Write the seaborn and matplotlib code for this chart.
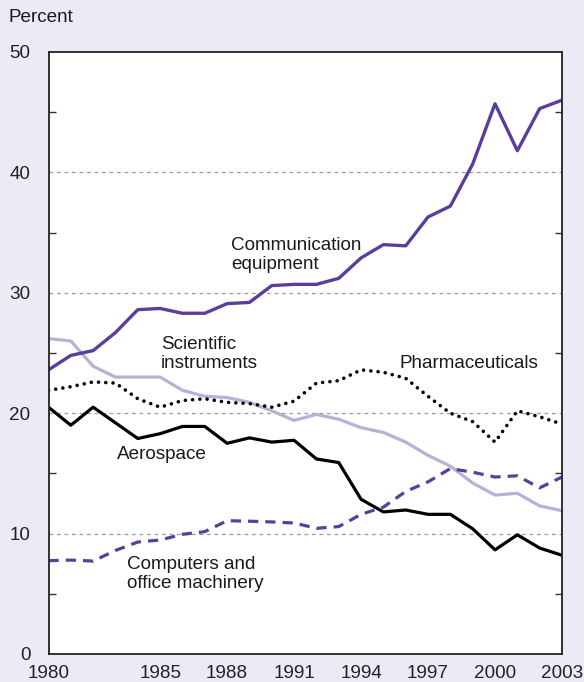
import numpy as np
import pandas as pd
import matplotlib
matplotlib.use("Agg")
import matplotlib.pyplot as plt
import seaborn as sns

years = list(range(1980, 2004))
communication = [23.6, 24.8, 25.2, 26.7, 28.6, 28.7, 28.3, 28.3, 29.1, 29.2, 30.6, 30.7,
                 30.7, 31.2, 32.9, 34.0, 33.9, 36.3, 37.2, 40.7, 45.7, 41.8, 45.3, 46.0]
scientific = [26.2, 26.0, 23.9, 23.0, 23.0, 23.0, 21.9, 21.4, 21.3, 20.9, 20.2, 19.4,
              19.9, 19.5, 18.8, 18.4, 17.6, 16.5, 15.6, 14.2, 13.2, 13.35, 12.3, 11.9]
pharma = [21.9, 22.2, 22.6, 22.5, 21.2, 20.5, 21.05, 21.2, 20.9, 20.8, 20.5, 21.0,
          22.5, 22.7, 23.6, 23.4, 22.9, 21.4, 20.0, 19.3, 17.6, 20.2, 19.7, 19.1]
aerospace = [20.5, 19.0, 20.5, 19.2, 17.9, 18.3, 18.9, 18.9, 17.5, 17.95, 17.6, 17.75,
             16.2, 15.9, 12.85, 11.8, 11.96, 11.6, 11.6, 10.4, 8.65, 9.9, 8.8, 8.2]
computers = [7.75, 7.8, 7.72, 8.6, 9.3, 9.47, 9.94, 10.16, 11.07, 11.03, 10.97, 10.88,
             10.44, 10.58, 11.6, 12.2, 13.5, 14.3, 15.4, 15.1, 14.7, 14.8, 13.8, 14.7]
tick_years = [1980, 1985, 1988, 1991, 1994, 1997, 2000, 2003]
y_ticks = [0, 10, 20, 30, 40, 50]

purple = "#5b3d9c"
light_purple = "#b9b0da"
bg = "#ecebf5"
FS = 13.6

sns.set_theme(style="white")
plt.rcParams["font.family"] = ["Liberation Sans", "DejaVu Sans"]

fig = plt.figure(figsize=(5.84, 6.82), dpi=100, facecolor=bg)
ax = fig.add_axes([48.5 / 584, 28 / 682, (562 - 48.5) / 584, (654 - 52) / 682])
ax.set_facecolor("white")

common = dict(ax=ax, legend=False)
sns.lineplot(x=years, y=scientific, color=light_purple, lw=2.3, **common)
sns.lineplot(x=years, y=aerospace, color="black", lw=2.3, **common)
l_ph = sns.lineplot(x=years, y=pharma, color="black", lw=2.6, **common).lines[-1]
l_ph.set_linestyle((0, (0.01, 2.0)))
l_ph.set_dash_capstyle("round")
l_co = sns.lineplot(x=years, y=computers, color=purple, lw=2.3, **common).lines[-1]
l_co.set_linestyle((0, (3.2, 2.2)))
sns.lineplot(x=years, y=communication, color=purple, lw=2.4, **common)

ax.set_xlim(1980, 2003)
ax.set_ylim(0, 50)
ax.set_xticks(tick_years)
ax.set_xticklabels([str(t) for t in tick_years], fontsize=FS)
ax.set_xticks(years, minor=True)
ax.set_yticks(y_ticks)
ax.set_yticklabels([str(t) for t in y_ticks], fontsize=FS)
ax.set_yticks([5, 15, 25, 35, 45], minor=True)
ax.tick_params(axis="x", which="major", direction="in", length=7, width=1, color="#333333",
               pad=8, labelcolor="#222222")
ax.tick_params(axis="x", which="minor", direction="in", length=4, width=1, color="#333333")
ax.tick_params(axis="y", which="major", length=0, pad=13, labelcolor="#222222")
ax.tick_params(axis="y", which="minor", direction="in", length=5, width=1, color="#333333",
               left=True, right=True)

for v in [10, 20, 30, 40]:
    ax.axhline(v, color="#9a9a9a", lw=0.9, ls=(0, (3, 3)), zorder=0)

for s in ax.spines.values():
    s.set_visible(True)
    s.set_color("#222222")
    s.set_linewidth(1.3)

ax.set_xlabel("")
ax.set_ylabel("")

tk = dict(fontsize=FS, color="#1a1a1a", va="top", ha="left", linespacing=1.15)
ax.text(1988.17, 34.6, "Communication\nequipment", **tk)
ax.text(1985.03, 26.4, "Scientific\ninstruments", **tk)
ax.text(1995.7, 24.8, "Pharmaceuticals", **tk)
ax.text(1983.08, 17.25, "Aerospace", **tk)
ax.text(1983.5, 8.1, "Computers and\noffice machinery", **tk)

fig.text(8 / 584, 1 - 9 / 682, "Percent", fontsize=FS, color="#1a1a1a", va="top", ha="left")

fig.savefig("out.png", dpi=100, facecolor=bg)
